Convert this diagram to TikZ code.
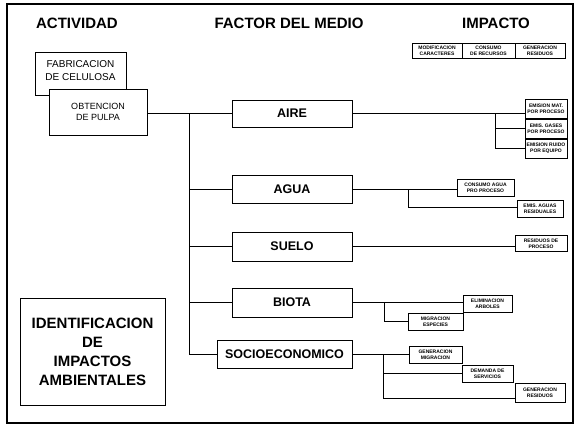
\documentclass[tikz,border=0pt]{standalone}
\usepackage{fontspec}
\setmainfont{Liberation Sans}
\begin{document}
\begin{tikzpicture}[x=1pt,y=-1pt,
  box/.style={draw,line width=0.8pt,inner sep=0pt,align=center},
  factor/.style={box,font=\fontsize{12.5}{14}\selectfont\bfseries,minimum height=28pt},
  imp/.style={box,font=\fontsize{5}{6.3}\selectfont\bfseries,minimum height=17pt},
  hdr/.style={font=\fontsize{15}{17}\selectfont\bfseries},
  act/.style={box,fill=white,font=\fontsize{9}{11.5}\selectfont},
  con/.style={line width=0.8pt}]
\useasboundingbox (0,0) rectangle (578,432);
\draw[line width=1.6pt] (7,4) rectangle (573,423);

% headers
\node[hdr] (hact) at (77,23) {ACTIVIDAD};
\node[hdr] (hfac) at (289,23) {FACTOR DEL MEDIO};
\node[hdr] (himp) at (496,23) {IMPACTO};

\node[imp,minimum width=50pt,minimum height=15pt] (m1) at (437,50.5) {MODIFICACION\\CARACTERES};
\node[imp,minimum width=53pt,minimum height=15pt] (m2) at (488.5,50.5) {CONSUMO\\DE RECURSOS};
\node[imp,minimum width=50pt,minimum height=15pt] (m3) at (540,50.5) {GENERACION\\RESIDUOS};

% activity
\node[act,minimum width=91pt,minimum height=43pt,text depth=6pt,font=\fontsize{10}{13}\selectfont] (fab) at (80.5,73.5) {FABRICACION\\DE CELULOSA};
\node[act,minimum width=98pt,minimum height=46pt] (obt) at (98,112) {OBTENCION\\DE PULPA};

% factors
\node[factor,minimum width=120pt,minimum height=27pt] (aire) at (292,113.5) {AIRE};
\node[factor,minimum width=120pt] (agua) at (292,189) {AGUA};
\node[factor,minimum width=120pt,minimum height=29pt] (suelo) at (292,246.5) {SUELO};
\node[factor,minimum width=120pt,minimum height=29pt] (biota) at (292,302.5) {BIOTA};
\node[factor,minimum width=135pt] (socio) at (284.5,354) {SOCIOECONOMICO};

\coordinate (ttop) at (189,113);
\coordinate (tbot) at (189,354);
\draw[con] (obt.east |- aire.west) -- (aire.west);
\draw[con] (ttop) -- (tbot) -- (socio.west);
\draw[con] (ttop |- agua.west) -- (agua.west);
\draw[con] (ttop |- suelo.west) -- (suelo.west);
\draw[con] (ttop |- biota.west) -- (biota.west);

% AIRE impacts
\node[imp,minimum width=42pt,minimum height=19pt] (a1) at (546,108.5) {EMISION MAT.\\POR PROCESO};
\node[imp,minimum width=42pt,minimum height=19pt] (a2) at (546,128.5) {EMIS. GASES\\POR PROCESO};
\node[imp,minimum width=42pt,minimum height=19pt] (a3) at (546,148.5) {EMISION RUIDO\\POR EQUIPO};
\coordinate (av) at (495,113.5);
\draw[con] (aire.east) -- (aire.east -| a1.west);
\draw[con] (av) -- (av |- a3.west) -- (a3.west);
\draw[con] (av |- a2.west) -- (a2.west);

% AGUA impacts
\node[imp,minimum width=57pt] (g1) at (485.5,187.5) {CONSUMO AGUA\\PRO PROCESO};
\node[imp,minimum width=46pt] (g2) at (540,208.5) {EMIS. AGUAS\\RESIDUALES};
\coordinate (gv) at (408,189);
\draw[con] (agua.east) -- (agua.east -| g1.west);
\draw[con] (gv) -- (gv |- 0,207) -- (g2.west |- 0,207);

% SUELO impacts
\node[imp,minimum width=52pt,minimum height=16pt] (s1) at (541,243.5) {RESIDUOS DE\\PROCESO};
\draw[con] (suelo.east) -- (suelo.east -| s1.west);

% BIOTA impacts
\node[imp,minimum width=49pt] (b1) at (487.5,303.5) {ELIMINACION\\ARBOLES};
\node[imp,minimum width=55pt] (b2) at (435.5,321.5) {MIGRACION\\ESPECIES};
\coordinate (bv) at (384,302.5);
\draw[con] (biota.east) -- (biota.east -| b1.west);
\draw[con] (bv) -- (bv |- b2.west) -- (b2.west);

% SOCIO impacts
\node[imp,minimum width=53pt] (c1) at (435.5,354.5) {GENERACION\\MIGRACION};
\node[imp,minimum width=51pt] (c2) at (487.5,373.5) {DEMANDA DE\\SERVICIOS};
\node[imp,minimum width=50pt,minimum height=19pt] (c3) at (540,392.5) {GENERACION\\RESIDUOS};
\coordinate (cv) at (383,354);
\draw[con] (socio.east) -- (socio.east -| c1.west);
\draw[con] (cv) -- (cv |- 0,398) -- (c3.west |- 0,398);
\draw[con] (cv |- c2.west) -- (c2.west);

% title box
\node[box,minimum width=145pt,minimum height=107pt,font=\fontsize{15}{19}\selectfont\bfseries] (id) at (92.5,351.5) {IDENTIFICACION\\DE\\IMPACTOS\\AMBIENTALES};
\end{tikzpicture}
\end{document}
